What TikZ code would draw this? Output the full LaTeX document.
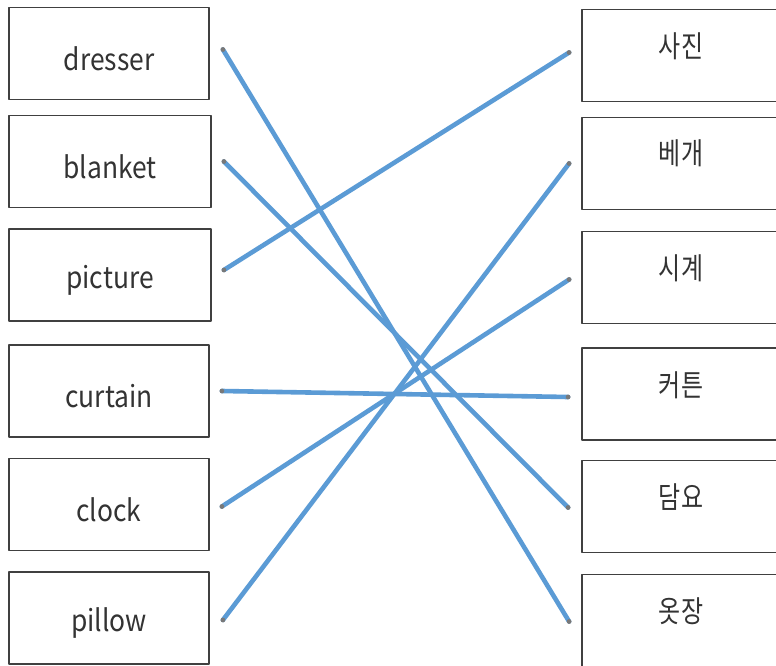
\documentclass[tikz,border=0pt]{standalone}
\usepackage{fontspec}
\setmainfont[FakeStretch=0.88]{Noto Sans CJK KR}
\newfontfamily\krfont[FakeStretch=0.8]{Noto Sans CJK KR}

\definecolor{linkblue}{RGB}{91,155,213}
\definecolor{boxgray}{RGB}{64,64,64}
\definecolor{dotgray}{RGB}{120,120,120}

\begin{document}
\begin{tikzpicture}[
						x=1pt, y=-1pt,
						every node/.style={font=\fontsize{30}{34}\selectfont, text=black!80},
						box/.style={draw=boxgray, line width=1.8pt, minimum width=200pt, minimum height=92pt, inner sep=0pt},
						word/.style={inner sep=0pt},
						krword/.style={inner sep=0pt, font=\krfont\fontsize{30}{34}\selectfont},
						link/.style={draw=linkblue, line width=4.6pt},
						line cap=round,
						line join=round
						]
						
						% Frame
						\useasboundingbox (0,0) rectangle (776,666);
						
						% Left boxes
						\node[box] (dresser) at (109,53.5) {};
						\node[box, minimum width=202pt] (blanket) at (110,161.5) {};
						\node[box, minimum width=202pt] (picture) at (110,275) {};
						\node[box] (curtain) at (109,391) {};
						\node[box] (clock) at (109,504.5) {};
						\node[box] (pillow) at (109,618) {};
						
						\node[word] (dresser-t) at ([yshift=-5pt]dresser.center) {dresser};
						\node[word] (blanket-t) at ([yshift=-5pt]blanket.center) {blanket};
						\node[word] (picture-t) at ([yshift=-5pt]picture.center) {picture};
						\node[word] (curtain-t) at ([yshift=-5pt]curtain.center) {curtain};
						\node[word] (clock-t) at ([yshift=-5pt]clock.center) {clock};
						\node[word] (pillow-t) at ([yshift=-5pt]pillow.center) {pillow};
						
						% Right boxes
						\node[box, minimum width=198pt] (sajin) at (681,55.5) {};
						\node[box, minimum width=198pt] (begae) at (681,163.5) {};
						\node[box, minimum width=198pt] (sigye) at (681,277.5) {};
						\node[box, minimum width=198pt] (keoteun) at (681,394) {};
						\node[box, minimum width=198pt] (damyo) at (681,506.5) {};
						\node[box, minimum width=198pt] (otjang) at (681,620.5) {};
						
						\node[krword] (sajin-t) at ([yshift=9pt]sajin.center) {사진};
						\node[krword] (begae-t) at ([yshift=10pt]begae.center) {베개};
						\node[krword] (sigye-t) at ([yshift=9pt]sigye.center) {시계};
						\node[krword] (keoteun-t) at ([yshift=9pt]keoteun.center) {커튼};
						\node[krword] (damyo-t) at ([yshift=9pt]damyo.center) {담요};
						\node[krword] (otjang-t) at ([yshift=9pt]otjang.center) {옷장};
						
						% Line ends
						\coordinate (dresser-e) at ([xshift=13pt,yshift=4pt]dresser.east);
						\coordinate (blanket-e) at ([xshift=12pt]blanket.east);
						\coordinate (picture-e) at ([xshift=12pt,yshift=5pt]picture.east);
						\coordinate (curtain-e) at ([xshift=12pt]curtain.east);
						\coordinate (clock-e) at ([xshift=12pt,yshift=-2pt]clock.east);
						\coordinate (pillow-e) at ([xshift=13pt,yshift=-2pt]pillow.east);
						
						\coordinate (sajin-w) at ([xshift=-12pt,yshift=3pt]sajin.west);
						\coordinate (begae-w) at ([xshift=-12pt]begae.west);
						\coordinate (sigye-w) at ([xshift=-12pt,yshift=-2pt]sigye.west);
						\coordinate (keoteun-w) at ([xshift=-13pt,yshift=-3pt]keoteun.west);
						\coordinate (damyo-w) at ([xshift=-13pt,yshift=-1pt]damyo.west);
						\coordinate (otjang-w) at ([xshift=-12pt,yshift=-1pt]otjang.west);
						
						% Matching lines
						\draw[link] (dresser-e) -- (otjang-w);
						\draw[link] (blanket-e) -- (damyo-w);
						\draw[link] (picture-e) -- (sajin-w);
						\draw[link] (curtain-e) -- (keoteun-w);
						\draw[link] (clock-e) -- (sigye-w);
						\draw[link] (pillow-e) -- (begae-w);
						
						% Dots
						\fill[dotgray] (dresser-e) circle (2.4) (blanket-e) circle (2.4) (picture-e) circle (2.4)
							(curtain-e) circle (2.4) (clock-e) circle (2.4) (pillow-e) circle (2.4);
						\fill[dotgray] (sajin-w) circle (2.4) (begae-w) circle (2.4) (sigye-w) circle (2.4)
							(keoteun-w) circle (2.4) (damyo-w) circle (2.4) (otjang-w) circle (2.4);
						
					\end{tikzpicture}
\end{document}
